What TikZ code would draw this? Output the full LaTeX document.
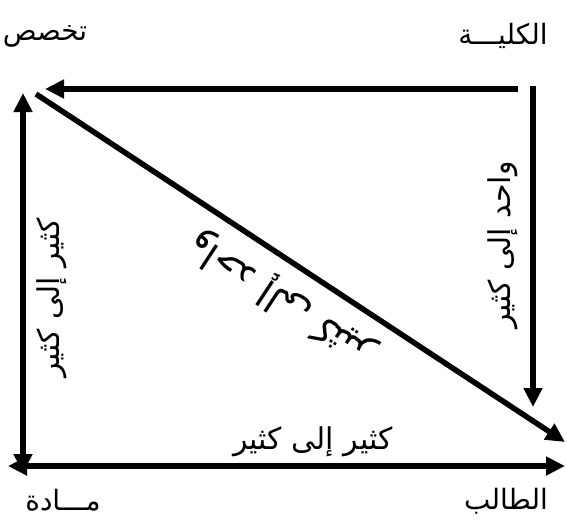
\documentclass[tikz,border=0pt]{standalone}
\usepackage{fontspec}
\usetikzlibrary{arrows.meta}
\TeXXeTstate=1
\newfontfamily\arabicfont[Script=Arabic]{DejaVu Sans}
\newcommand{\ar}[1]{\arabicfont\beginR #1\endR}
\begin{document}
\begin{tikzpicture}[x=1pt,y=-1pt,
  tipA/.tip={Triangle[length=19pt,width=18pt]},
  conn/.style={line width=5.5pt,-tipA},
  dconn/.style={line width=5.5pt,tipA-tipA},
  lbl/.style={inner sep=0pt,font=\fontsize{30}{34}\selectfont},
  clbl/.style={inner sep=0pt,font=\fontsize{28}{32}\selectfont},
  dlbl/.style={inner sep=0pt,font=\fontsize{38}{42}\selectfont}]
\useasboundingbox (0,0) rectangle (567,519);
% corner labels
\node[clbl] (tl) at (45,36) {\ar{تخصص}};
\node[clbl] (tr) at (503,36) {\ar{الكليـــة}};
\node[clbl] (bl) at (63,500) {\ar{مـــادة}};
\node[clbl] (br) at (506,501) {\ar{الطالب}};
% connector ends
\coordinate (topR) at (518,89);
\coordinate (topL) at (45,89);
\coordinate (rT) at (533,86);
\coordinate (rB) at (533,407);
\coordinate (lT) at (23,93);
\coordinate (lB) at (23,473);
\coordinate (bL) at (8,466);
\coordinate (bR) at (565,466);
\coordinate (dA) at (36,94);
\coordinate (dB) at (565,442);
% connectors
\draw[conn] (topR) -- (topL);
\draw[conn] (rT) -- (rB);
\draw[dconn] (lT) -- (lB);
\draw[dconn] (bL) -- (bR);
\draw[conn] (dA) -- (dB);
% connector labels
\node[lbl] (lab) at (313,442) {\ar{كثير إلى كثير}};
\node[lbl,rotate=90] (lar) at (503,245) {\ar{واحد إلى كثير}};
\node[lbl,rotate=90] (lal) at (52,298) {\ar{كثير إلى كثير}};
\node[dlbl,rotate=146.7] (lad) at (281,299) {\ar{واحد إلى كثير}};
\end{tikzpicture}
\end{document}
